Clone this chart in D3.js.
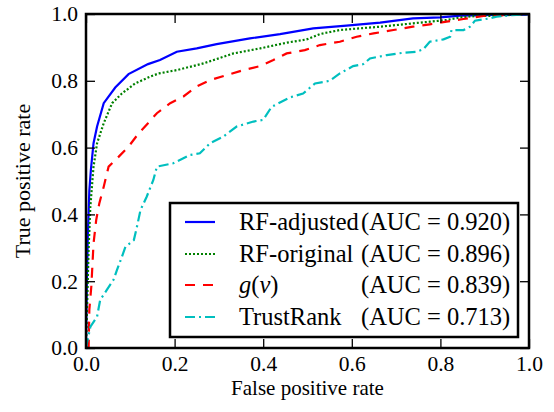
<!DOCTYPE html>
<html>
<head>
<meta charset="utf-8">
<script src="https://d3js.org/d3.v7.min.js"></script>
<style>
  html, body { margin: 0; padding: 0; background: #fff; }
</style>
</head>
<body>
<div id="chart"></div>
<script>
// ROC curves, values (fpr / tpr pairs)
const adjFpr = [0, 0.002, 0.004, 0.0075, 0.011, 0.017, 0.025, 0.04, 0.066, 0.096, 0.14, 0.167, 0.205, 0.25, 0.295, 0.37, 0.438, 0.513, 0.588, 0.664, 0.738, 0.80, 0.845, 0.92, 0.995, 1.0];
const adjTpr = [0, 0.2, 0.33, 0.47, 0.533, 0.613, 0.663, 0.733, 0.78, 0.82, 0.85, 0.862, 0.887, 0.897, 0.91, 0.927, 0.94, 0.957, 0.965, 0.974, 0.987, 0.99, 0.995, 0.997, 0.998, 1.0];

const origFpr = [0, 0.003, 0.006, 0.0098, 0.017, 0.025, 0.04, 0.059, 0.081, 0.111, 0.144, 0.164, 0.205, 0.265, 0.333, 0.393, 0.453, 0.498, 0.528, 0.573, 0.664, 0.738, 0.776, 0.814, 0.845, 0.882, 0.927, 1.0];
const origTpr = [0, 0.15, 0.3, 0.423, 0.543, 0.613, 0.673, 0.733, 0.762, 0.792, 0.812, 0.822, 0.832, 0.852, 0.882, 0.897, 0.914, 0.924, 0.94, 0.952, 0.962, 0.972, 0.977, 0.982, 0.99, 0.994, 0.995, 1.0];

const gvFpr = [0, 0.006, 0.0075, 0.012, 0.017, 0.023, 0.03, 0.04, 0.051, 0.074, 0.096, 0.119, 0.14, 0.16, 0.19, 0.22, 0.25, 0.28, 0.318, 0.355, 0.393, 0.423, 0.453, 0.494, 0.528, 0.573, 0.611, 0.649, 0.694, 0.738, 0.776, 0.814, 0.852, 0.897, 0.95, 1.0];
const gvTpr = [0, 0.004, 0.114, 0.184, 0.313, 0.383, 0.433, 0.483, 0.543, 0.573, 0.603, 0.643, 0.673, 0.703, 0.733, 0.753, 0.783, 0.802, 0.817, 0.832, 0.844, 0.862, 0.882, 0.892, 0.907, 0.917, 0.932, 0.942, 0.952, 0.962, 0.969, 0.977, 0.985, 0.994, 0.997, 1.0];

const trFpr = [0, 0.002, 0.01, 0.025, 0.032, 0.047, 0.062, 0.07, 0.081, 0.089, 0.108, 0.115, 0.123, 0.137, 0.152, 0.16, 0.197, 0.235, 0.257, 0.28, 0.31, 0.34, 0.378, 0.40, 0.419, 0.46, 0.49, 0.517, 0.55, 0.573, 0.603, 0.626, 0.641, 0.679, 0.716, 0.746, 0.761, 0.776, 0.807, 0.822, 0.825, 0.852, 0.867, 0.878, 0.912, 0.927, 0.957, 1.0];
const trTpr = [0, 0.014, 0.064, 0.094, 0.144, 0.174, 0.204, 0.234, 0.273, 0.303, 0.323, 0.363, 0.413, 0.453, 0.503, 0.543, 0.553, 0.578, 0.583, 0.613, 0.633, 0.663, 0.678, 0.683, 0.722, 0.75, 0.762, 0.792, 0.80, 0.822, 0.844, 0.85, 0.867, 0.877, 0.884, 0.887, 0.894, 0.917, 0.924, 0.932, 0.952, 0.952, 0.962, 0.98, 0.987, 0.992, 0.996, 1.0];

const names = ["RF-adjusted", "RF-original", "g(v)", "TrustRank"];
const aucs = ["0.920", "0.896", "0.839", "0.713"];
const ticks = [0, 0.2, 0.4, 0.6, 0.8, 1.0];

const series = [
  { name: names[0], auc: aucs[0], x: adjFpr, y: adjTpr, color: "#0000ff", dash: null },
  { name: names[1], auc: aucs[1], x: origFpr, y: origTpr, color: "#008000", dash: "2,2" },
  { name: names[2], auc: aucs[2], x: gvFpr, y: gvTpr, color: "#ff0000", dash: "10,8" },
  { name: names[3], auc: aucs[3], x: trFpr, y: trTpr, color: "#00bfbf", dash: "10,4,2,4" }
];

const FONT = '"Liberation Serif", "Times New Roman", serif';
const W = 554, H = 412;
const margin = { left: 86, top: 14, right: 25, bottom: 64 };
const pw = W - margin.left - margin.right;
const ph = H - margin.top - margin.bottom;

const svg = d3.select("#chart").append("svg")
  .attr("width", W).attr("height", H);

const x = d3.scaleLinear().domain([0, 1]).range([0, pw]);
const y = d3.scaleLinear().domain([0, 1]).range([ph, 0]);

const g = svg.append("g").attr("transform", `translate(${margin.left},${margin.top})`);

svg.append("defs").append("clipPath").attr("id", "clip")
  .append("rect").attr("width", pw).attr("height", ph);

// curves
const line = d3.line().x(d => x(d[0])).y(d => y(d[1]));
g.append("g").attr("clip-path", "url(#clip)")
  .selectAll("path").data(series).join("path")
  .attr("d", s => line(s.x.map((v, i) => [v, s.y[i]])))
  .attr("fill", "none")
  .attr("stroke", s => s.color)
  .attr("stroke-width", 2.2)
  .attr("stroke-dasharray", s => s.dash);

// ticks, all four sides, pointing in
const tickLen = 9;
const fmt = d3.format(".1f");
const axBottom = g.append("g").attr("transform", `translate(0,${ph})`)
  .call(d3.axisBottom(x).tickValues(ticks).tickSize(-tickLen).tickFormat(fmt));
const axTop = g.append("g")
  .call(d3.axisTop(x).tickValues(ticks).tickSize(-tickLen).tickFormat(""));
const axLeft = g.append("g")
  .call(d3.axisLeft(y).tickValues(ticks).tickSize(-tickLen).tickPadding(8).tickFormat(fmt));
const axRight = g.append("g").attr("transform", `translate(${pw},0)`)
  .call(d3.axisRight(y).tickValues(ticks).tickSize(-tickLen).tickFormat(""));

[axBottom, axTop, axLeft, axRight].forEach(a => {
  a.select(".domain").remove();
  a.selectAll(".tick line").attr("stroke", "#000").attr("stroke-width", 1.3);
  a.selectAll(".tick text").attr("font-size", 21.5).style("font-family", FONT).attr("fill", "#000");
});
axBottom.selectAll(".tick text").attr("y", 23).attr("dy", 0);

// frame
g.append("rect").attr("width", pw).attr("height", ph)
  .attr("fill", "none").attr("stroke", "#000").attr("stroke-width", 2.5);

// axis titles
svg.append("text")
  .attr("x", margin.left + pw / 2).attr("y", 395)
  .attr("text-anchor", "middle").attr("font-size", 21).style("font-family", FONT)
  .text("False positive rate");
svg.append("text")
  .attr("transform", `translate(30,${margin.top + ph / 2}) rotate(-90)`)
  .attr("text-anchor", "middle").attr("font-size", 22).style("font-family", FONT)
  .text("True positive rate");

// legend
const lg = svg.append("g").attr("transform", "translate(170,203)");
lg.append("rect").attr("width", 348).attr("height", 134)
  .attr("fill", "#fff").attr("stroke", "#000").attr("stroke-width", 2.5);

const rowY = [19, 51, 82, 114];
series.forEach((s, i) => {
  const r = lg.append("g").attr("transform", `translate(0,${rowY[i]})`);
  r.append("line").attr("x1", 15).attr("x2", 45)
    .attr("stroke", s.color).attr("stroke-width", 2.2)
    .attr("stroke-dasharray", s.dash);
  const t = r.append("text").attr("x", 69).attr("dy", "0.33em")
    .attr("font-size", 24.5).style("font-family", FONT);
  if (s.name === "g(v)") {
    t.append("tspan").attr("font-style", "italic").text("g");
    t.append("tspan").text("(");
    t.append("tspan").attr("font-style", "italic").text("v");
    t.append("tspan").text(")");
  } else {
    t.text(s.name);
  }
  r.append("text").attr("x", 191).attr("dy", "0.33em")
    .attr("font-size", 24.5).style("font-family", FONT)
    .text(`(AUC = ${s.auc})`);
});
</script>
</body>
</html>
